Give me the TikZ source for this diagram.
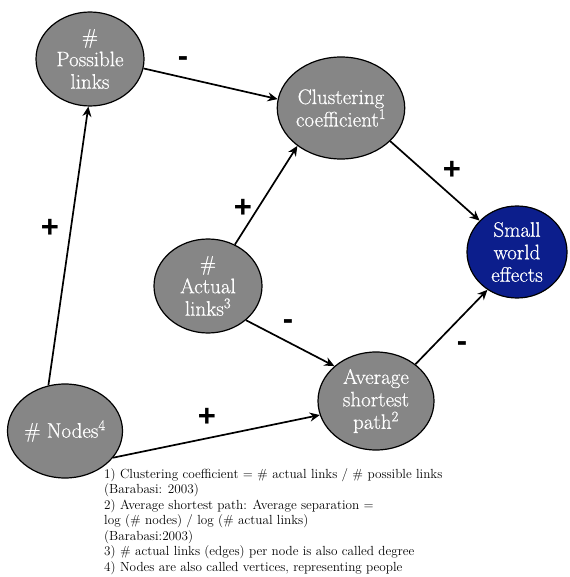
\documentclass[tikz,border=0pt]{standalone}
\usepackage{fontspec}
\newfontfamily\signfont{Liberation Sans}
\newfontfamily\nodefont[FakeBold=0.6]{Latin Modern Roman}
\usetikzlibrary{shapes.geometric,arrows.meta}
\definecolor{nodegray}{RGB}{134,134,134}
\definecolor{navyblue}{RGB}{12,30,140}
\begin{document}
\begin{tikzpicture}[x=1pt,y=-1pt,
  bubble/.style={ellipse,draw=black,line width=1.2pt,fill=nodegray,text=white,
    inner sep=0pt,align=center,font=\nodefont\fontsize{21}{22.5}\selectfont},
  bluebubble/.style={bubble,fill=navyblue},
  conn/.style={line width=1.7pt,-{Stealth[length=10pt,width=9pt]}},
  sign/.style={font=\signfont\bfseries\fontsize{31}{31}\selectfont,inner sep=0pt}]
\useasboundingbox (0,0) rectangle (569,577);
\node[bubble,minimum width=108pt,minimum height=94pt] (pl) at (90,59) {\#\\Possible\\links};
\node[bubble,minimum width=118pt,minimum height=102pt] (cc) at (341,108) {Clustering\\coefficient\textsuperscript{1}};
\node[bluebubble,minimum width=100pt,minimum height=92pt] (sw) at (517,252) {Small\\world\\effects};
\node[bubble,minimum width=108pt,minimum height=94pt] (al) at (208,286) {\#\\Actual\\links\textsuperscript{3}};
\node[bubble,minimum width=116pt,minimum height=98pt] (asp) at (376,401) {Average\\shortest\\path\textsuperscript{2}};
\node[bubble,minimum width=108pt,minimum height=94pt] (nd) at (65,431) {\# Nodes\textsuperscript{4}};
\draw[conn] (nd.110) -- (pl.268);
\draw[conn] (pl.350) -- (cc.172);
\draw[conn] (al.57) -- (cc.221);
\draw[conn] (cc.326) -- (sw.140);
\draw[conn] (al.318) -- (asp.140);
\draw[conn] (nd.331) -- (asp.194);
\draw[conn] (asp.43) -- (sw.232);
\node[sign] (s1) at (183,62) {-};
\node[sign] (s2) at (50,228) {+};
\node[sign] (s3) at (243,208) {+};
\node[sign] (s4) at (452,170) {+};
\node[sign] (s5) at (288,325) {-};
\node[sign] (s6) at (462,347) {-};
\node[sign] (s7) at (207,417) {+};
\node[anchor=north west,align=left,inner sep=0pt,font=\rmfamily\fontsize{13.2}{15.5}\selectfont] (fn) at (104,468)
{1) Clustering coefficient = \# actual links / \# possible links\\
(Barabasi: 2003)\\
2) Average shortest path: Average separation =\\
log (\# nodes) / log (\# actual links)\\
(Barabasi:2003)\\
3) \# actual links (edges) per node is also called degree\\
4) Nodes are also called vertices, representing people};
\end{tikzpicture}
\end{document}
